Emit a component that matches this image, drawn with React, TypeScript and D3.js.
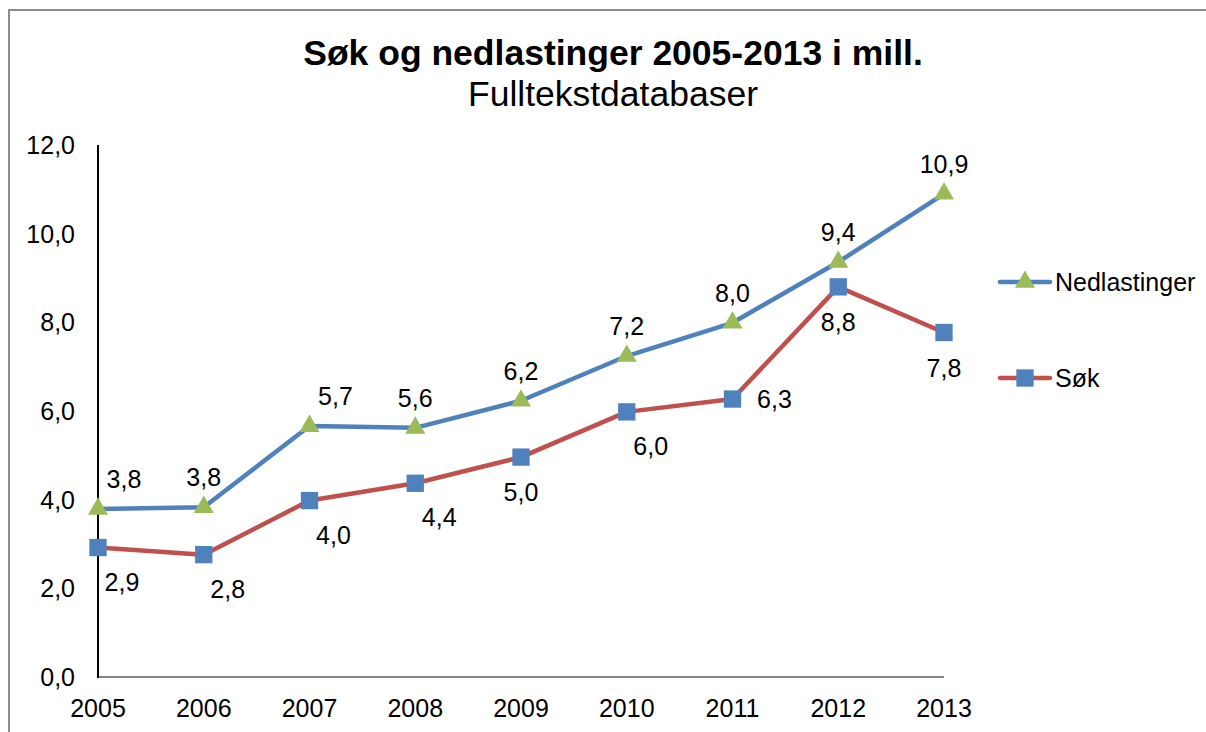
import React from "react";
import * as d3 from "d3";

const years = ["2005", "2006", "2007", "2008", "2009", "2010", "2011", "2012", "2013"];
const nedlastinger = [3.79, 3.83, 5.66, 5.62, 6.23, 7.24, 7.99, 9.36, 10.9];
const sok = [2.92, 2.76, 3.98, 4.37, 4.96, 5.98, 6.27, 8.8, 7.77];
const yTicks = [0, 2, 4, 6, 8, 10, 12];
const nedLabelPlacement = ["above-right", "above", "above-right", "above", "above", "above", "above", "above", "above"];
const sokLabelPlacement = ["below-right", "below-right", "below-right", "below-right", "below", "below-right", "right", "below", "below"];
const title = "Søk og nedlastinger 2005-2013 i mill.";
const subtitle = "Fulltekstdatabaser";

const W = 1206;
const H = 732;
const FONT = "'Liberation Sans', Arial, sans-serif";
const BLUE = "#4F81BD";
const RED = "#C0504D";
const GREEN = "#9BBB59";

const fmt = (v: number) => v.toFixed(1).replace(".", ",");

function offset(p: string): [number, number] {
  switch (p) {
    case "above-right": return [26, -30];
    case "above": return [0, -30];
    case "below-right": return [24, 34];
    case "below": return [0, 35];
    case "right": return [42, 0];
    default: return [0, 0];
  }
}

export default function App() {
  const x = d3.scalePoint<string>().domain(years).range([98, 944]);
  const y = d3.scaleLinear().domain([0, 12]).range([677, 145]);
  const line = d3.line<number>().x((_, i) => x(years[i])!).y((d) => y(d));
  const tri = d3.symbol().type(d3.symbolTriangle).size(175)()!;
  const sq = d3.symbol().type(d3.symbolSquare).size(300)()!;

  return (
    <svg width={W} height={H} style={{ position: "absolute", left: 0, top: 0, background: "#fff" }} fontFamily={FONT}>
      <rect x={9} y={10} width={W + 20} height={H + 20} fill="#fff" stroke="#8c8c8c" strokeWidth={2} />
      <text x={613} y={65} textAnchor="middle" fontSize={35.5} fontWeight="bold" fill="#000">{title}</text>
      <text x={613} y={106} textAnchor="middle" fontSize={35.5} fill="#000">{subtitle}</text>

      {/* y tick labels */}
      {yTicks.map((t) => (
        <text key={t} x={75} y={y(t)} textAnchor="end" dominantBaseline="central" fontSize={25} fill="#000">{fmt(t)}</text>
      ))}
      {/* x tick labels */}
      {years.map((yr) => (
        <text key={yr} x={x(yr)} y={708} textAnchor="middle" dominantBaseline="central" fontSize={25} fill="#000">{yr}</text>
      ))}

      {/* axes */}
      <line x1={98} x2={944} y1={y(0)} y2={y(0)} stroke="#868686" strokeWidth={2} />
      <line x1={98} x2={98} y1={y(12)} y2={y(0) + 1} stroke="#000" strokeWidth={2} />

      {/* lines */}
      <path d={line(nedlastinger)!} fill="none" stroke={BLUE} strokeWidth={4.5} strokeLinejoin="round" />
      <path d={line(sok)!} fill="none" stroke={RED} strokeWidth={4.5} strokeLinejoin="round" />

      {/* markers */}
      {nedlastinger.map((v, i) => (
        <path key={"n" + i} d={tri} transform={`translate(${x(years[i])},${y(v)})`} fill={GREEN} />
      ))}
      {sok.map((v, i) => (
        <path key={"s" + i} d={sq} transform={`translate(${x(years[i])},${y(v)})`} fill={BLUE} />
      ))}

      {/* data labels */}
      {nedlastinger.map((v, i) => {
        const [dx, dy] = offset(nedLabelPlacement[i]);
        return (
          <text key={"nl" + i} x={x(years[i])! + dx} y={y(v) + dy} textAnchor="middle" dominantBaseline="central" fontSize={25} fill="#000">{fmt(v)}</text>
        );
      })}
      {sok.map((v, i) => {
        const [dx, dy] = offset(sokLabelPlacement[i]);
        return (
          <text key={"sl" + i} x={x(years[i])! + dx} y={y(v) + dy} textAnchor="middle" dominantBaseline="central" fontSize={25} fill="#000">{fmt(v)}</text>
        );
      })}

      {/* legend */}
      <g>
        <line x1={1000} x2={1050} y1={282} y2={282} stroke={BLUE} strokeWidth={4.5} strokeLinecap="round" />
        <path d={tri} transform="translate(1025,282)" fill={GREEN} />
        <text x={1055} y={282} dominantBaseline="central" fontSize={25} fill="#000">Nedlastinger</text>
        <line x1={1000} x2={1050} y1={378} y2={378} stroke={RED} strokeWidth={4.5} strokeLinecap="round" />
        <path d={sq} transform="translate(1025,378)" fill={BLUE} />
        <text x={1055} y={378} dominantBaseline="central" fontSize={25} fill="#000">Søk</text>
      </g>
    </svg>
  );
}
